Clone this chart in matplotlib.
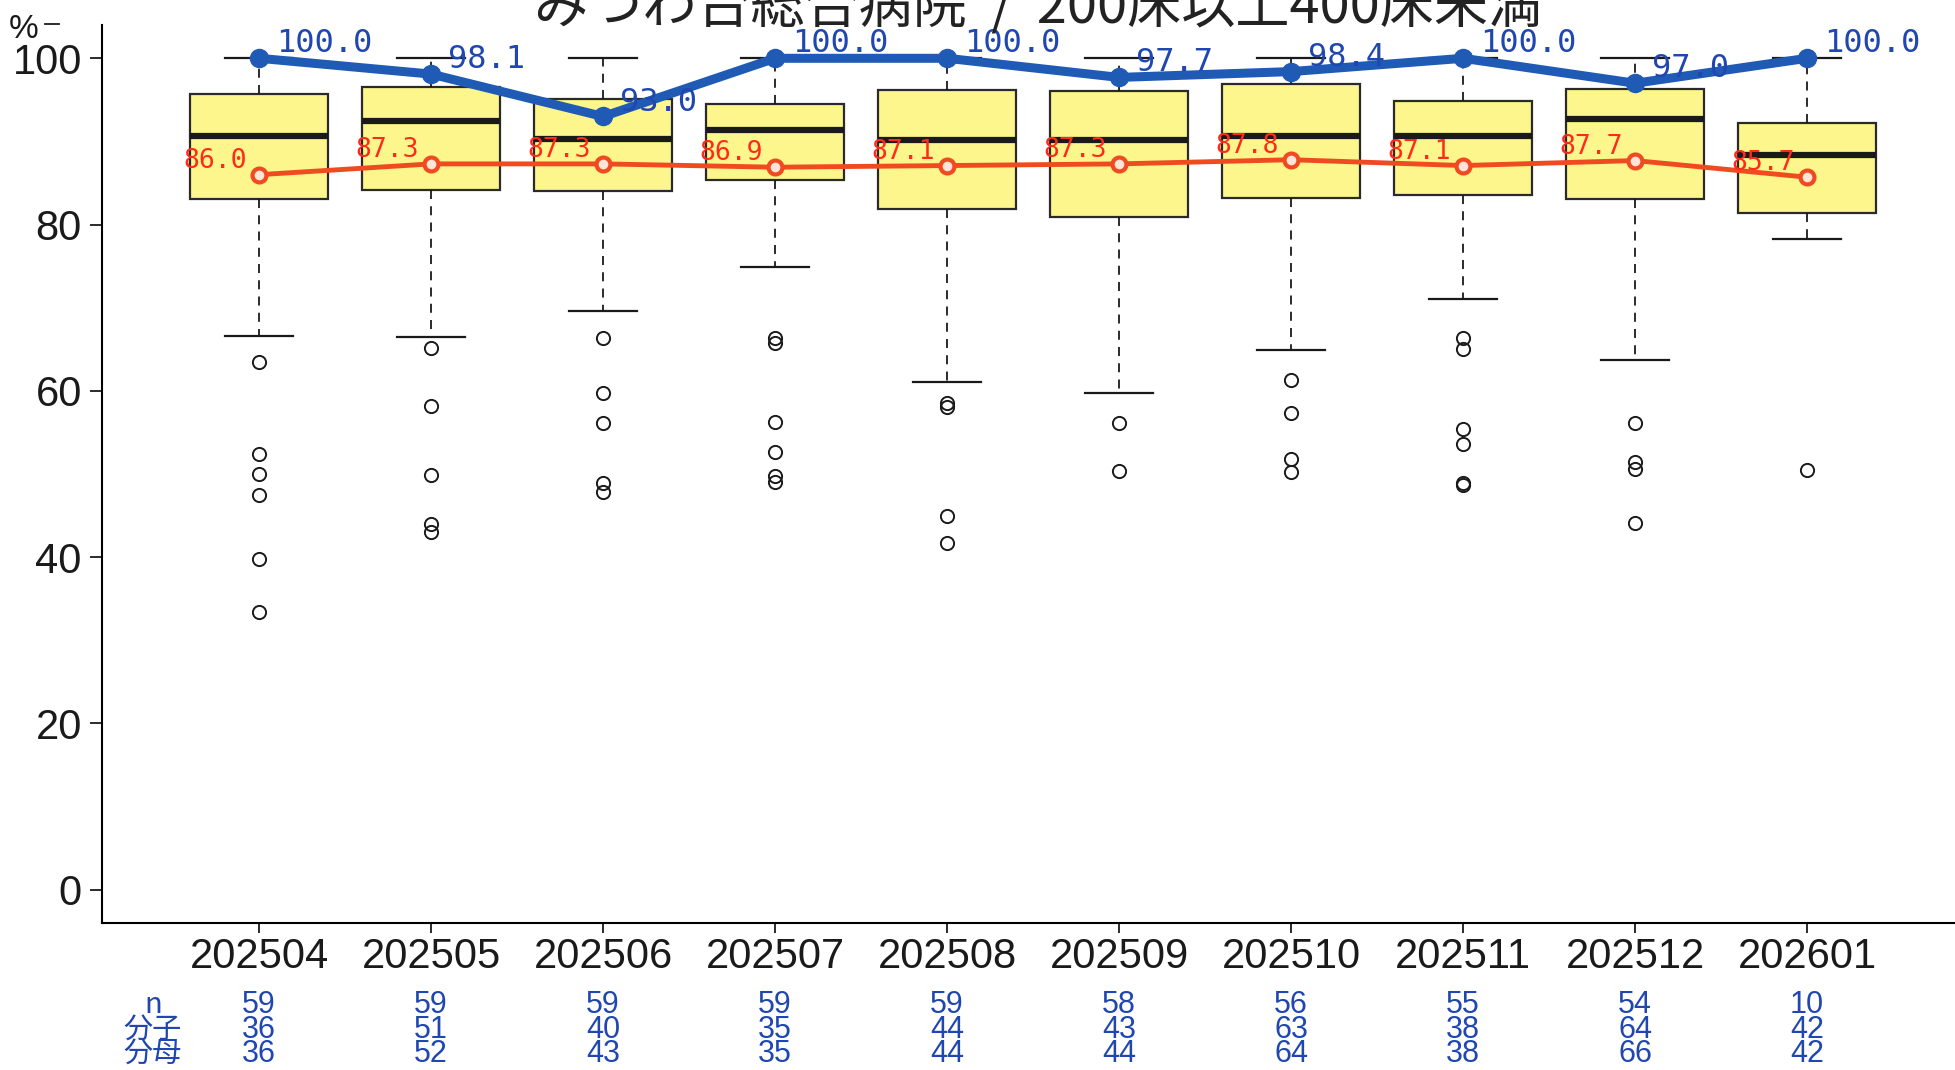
import matplotlib
matplotlib.use('Agg')
import matplotlib.pyplot as plt
from matplotlib import font_manager
from matplotlib.transforms import blended_transform_factory
from matplotlib.lines import Line2D

# months on the x axis
months = ['202504', '202505', '202506', '202507', '202508',
          '202509', '202510', '202511', '202512', '202601']

# box plot stats (all hospitals in the group)
q1 = [83.1, 84.2, 84.0, 85.4, 81.9, 80.9, 83.2, 83.6, 83.1, 81.4]
med = [90.6, 92.5, 90.3, 91.4, 90.2, 90.2, 90.6, 90.6, 92.7, 88.4]
q3 = [95.7, 96.5, 95.1, 94.5, 96.2, 96.1, 96.9, 94.9, 96.3, 92.2]
whis_lo = [66.6, 66.5, 69.6, 74.9, 61.1, 59.7, 64.9, 71.0, 63.7, 78.3]
whis_hi = [100, 100, 100, 100, 100, 100, 100, 100, 100, 100]
fliers = [
    [63.5, 52.4, 50.0, 47.5, 39.8, 33.4],
    [65.2, 58.2, 49.9, 44.0, 43.0],
    [66.4, 59.8, 56.1, 48.9, 47.8],
    [66.4, 65.8, 56.3, 52.7, 49.8, 49.0],
    [58.5, 58.1, 44.9, 41.7],
    [56.1, 50.4],
    [61.3, 57.3, 51.8, 50.2],
    [66.3, 65.0, 55.4, 53.6, 48.9, 48.7],
    [56.1, 51.4, 50.6, 44.1],
    [50.5],
]

# this hospital (blue) and group mean (red)
hosp = [100.0, 98.1, 93.0, 100.0, 100.0, 97.7, 98.4, 100.0, 97.0, 100.0]
mean = [86.0, 87.3, 87.3, 86.9, 87.1, 87.3, 87.8, 87.1, 87.7, 85.7]

# table under the chart
n_vals = [59, 59, 59, 59, 59, 58, 56, 55, 54, 10]
bunshi = [36, 51, 40, 35, 44, 43, 63, 38, 64, 42]
bunbo = [36, 52, 43, 35, 44, 44, 64, 38, 66, 42]

title = 'みつわ台総合病院  /  200床以上400床未満'

names = {f.name for f in font_manager.fontManager.ttflist}
narrow = 'Liberation Sans Narrow' if 'Liberation Sans Narrow' in names else 'Liberation Sans'
mono = 'DejaVu Sans Mono'
jp = ['Noto Sans CJK JP', 'DejaVu Sans']

fig = plt.figure(figsize=(19.55, 10.7), dpi=100)
ax = fig.add_axes([0.0522, 0.1374, 0.9478, 0.8392])

stats = []
for i in range(len(months)):
    stats.append({'med': med[i], 'q1': q1[i], 'q3': q3[i],
                  'whislo': whis_lo[i], 'whishi': whis_hi[i],
                  'fliers': fliers[i]})
pos = list(range(len(months)))
ax.bxp(stats, positions=pos, widths=0.8, capwidths=0.4, patch_artist=True,
       boxprops=dict(facecolor='#fcf68c', edgecolor='#2a2a2a', linewidth=1.6),
       medianprops=dict(color='#1a1a1a', linewidth=4.5),
       whiskerprops=dict(color='#1a1a1a', linewidth=1.3, linestyle=(0, (5, 4))),
       capprops=dict(color='#1a1a1a', linewidth=1.6),
       flierprops=dict(marker='o', markerfacecolor='none', markeredgecolor='#1a1a1a',
                       markersize=9.5, markeredgewidth=1.4))

ax.plot(pos, mean, color='#f04a20', lw=3.5, marker='o', ms=10,
        mfc='#ffe4d8', mec='#f04a20', mew=3, zorder=4)
ax.plot(pos, hosp, color='#1f5bb5', lw=6.5, marker='o', ms=13, zorder=5)

for i in pos:
    ax.annotate('%.1f' % hosp[i], (i, hosp[i]), xytext=(12, 4.3), textcoords='offset points',
                ha='left', va='baseline', color='#2046b0', fontsize=23, family=mono, zorder=6)
    ax.annotate('%.1f' % mean[i], (i, mean[i]), xytext=(-9, 5), textcoords='offset points',
                ha='right', va='baseline', color='#ff2a1a', fontsize=19, family=mono, zorder=6)

ax.set_xlim(-0.913, 9.86)
ax.set_ylim(-4, 104)
ax.set_yticks([0, 20, 40, 60, 80, 100])
ax.set_xticks(pos)
ax.set_xticklabels(months)
ax.tick_params(axis='both', labelsize=30, width=1.3, color='#1a1a1a')
ax.tick_params(axis='y', length=8.6, pad=6)
ax.tick_params(axis='x', length=7, pad=3)
for lab in ax.get_xticklabels() + ax.get_yticklabels():
    lab.set_family(narrow)
    lab.set_color('#1a1a1a')
ax.spines['top'].set_visible(False)
ax.spines['right'].set_visible(False)
ax.spines['left'].set_linewidth(1.5)
ax.spines['bottom'].set_linewidth(1.5)

# title, cut by the top of the image as in the original
fig.text(0.531, 1 - 24 / 1070, title, ha='center', va='baseline', fontsize=39,
         family=jp, color='#222222')

# % label with small dash
fig.text(24 / 1955, 1 - 30 / 1070, '%', ha='center', va='center', fontsize=24,
         family=narrow, color='#1a1a1a')
fig.add_artist(Line2D([45 / 1955, 59 / 1955], [1 - 24 / 1070, 1 - 24 / 1070],
                      color='#1a1a1a', lw=1.3, transform=fig.transFigure))

# count table
tr = blended_transform_factory(ax.transData, fig.transFigure)
rows_y = [1 - 1005 / 1070, 1 - 1030 / 1070, 1 - 1054 / 1070]
row_labels = ['n', '分子', '分母']
for r, lab in enumerate(row_labels):
    fig.text(153 / 1955, rows_y[r], lab, ha='center', va='center', fontsize=21,
             family=jp, color='#2046b0')
for i in pos:
    for r, vals in enumerate([n_vals, bunshi, bunbo]):
        ax.text(i, rows_y[r], str(vals[i]), transform=tr, ha='center', va='center',
                fontsize=22, family=narrow, color='#2046b0', clip_on=False)

fig.savefig('out.png', dpi=100)
